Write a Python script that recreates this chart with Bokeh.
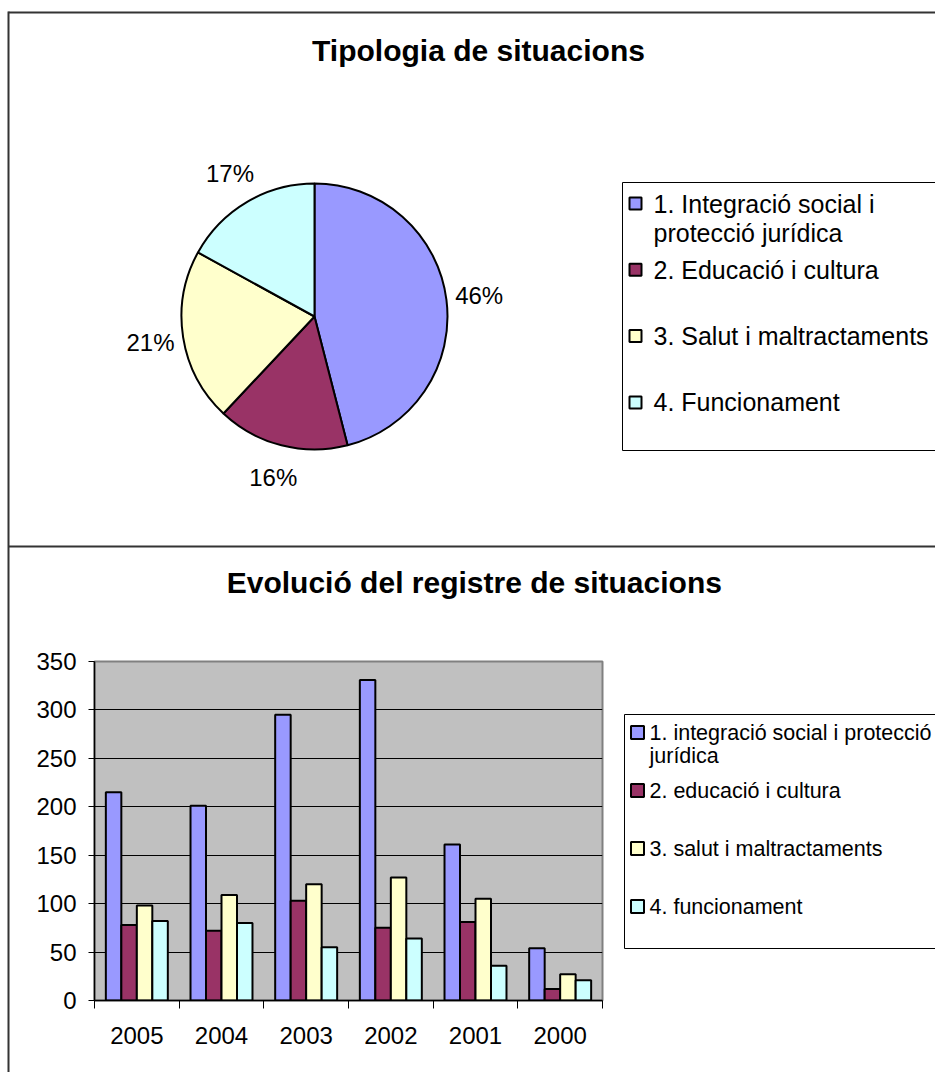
import numpy as np
from bokeh.plotting import figure
from bokeh.models import Range1d, FixedTicker
from bokeh.core.properties import value
from bokeh.embed import file_html
from bokeh.resources import INLINE

FONT = "Liberation Sans"

# ---------------- data ----------------
pie_title = "Tipologia de situacions"
pie_labels = ["1. Integració social i\nprotecció jurídica", "2. Educació i cultura",
              "3. Salut i maltractaments", "4. Funcionament"]
pie_pct = [46, 16, 21, 17]

bar_title = "Evolució  del registre de situacions"
years = ["2005", "2004", "2003", "2002", "2001", "2000"]
s_integracio = [215, 201, 295, 331, 161, 54]
s_educacio = [78, 72, 103, 75, 81, 12]
s_salut = [98, 109, 120, 127, 105, 27]
s_funcionament = [82, 80, 55, 64, 36, 21]
bar_labels = ["1. integració social i protecció\njurídica", "2. educació i cultura",
              "3. salut i maltractaments", "4. funcionament"]
y_ticks = [0, 50, 100, 150, 200, 250, 300, 350]

colors = ["#9999FF", "#993366", "#FFFFCC", "#CCFFFF"]
BORDER = "#333333"

W, H = 935, 1072
FL, FT, FW, FH = 94, 661, 508, 339   # plot area (frame) in page pixels
YMAX = 350

p = figure(frame_width=FW, frame_height=FH, x_range=Range1d(0, len(years)),
           y_range=Range1d(0, YMAX), output_backend="svg", toolbar_location=None,
           min_border_left=FL, min_border_right=W - FL - FW,
           min_border_top=FT, min_border_bottom=H - FT - FH)
p.background_fill_color = "#C0C0C0"
p.border_fill_color = "white"
p.outline_line_color = "#808080"
p.outline_line_width = 2

centers = [i + 0.5 for i in range(len(years))]
p.xaxis.ticker = FixedTicker(ticks=centers, minor_ticks=list(range(len(years) + 1)))
p.xaxis.major_label_overrides = {c: y for c, y in zip(centers, years)}
p.xaxis.major_tick_out = 0
p.xaxis.major_tick_in = 0
p.xaxis.minor_tick_out = 8
p.xaxis.minor_tick_in = 0
p.xaxis.minor_tick_line_color = "black"
p.xaxis.major_label_standoff = 18

p.yaxis.ticker = FixedTicker(ticks=y_ticks)
p.yaxis.major_tick_out = 6
p.yaxis.major_tick_in = 0
p.yaxis.minor_tick_line_color = None
p.yaxis.major_label_standoff = 12

for ax in (p.xaxis, p.yaxis):
    ax.axis_line_color = "black"
    ax.axis_line_width = 1.5
    ax.major_tick_line_color = "black"
    ax.major_label_text_font = FONT
    ax.major_label_text_font_size = "24px"
    ax.major_label_text_color = "black"

p.xgrid.visible = False
p.ygrid.ticker = FixedTicker(ticks=y_ticks)
p.ygrid.grid_line_color = "black"
p.ygrid.grid_line_width = 1

# ---------------- bars ----------------
bw = 0.183
series = [s_integracio, s_educacio, s_salut, s_funcionament]
for j, s in enumerate(series):
    xs = [i + 0.5 + (j - 1.5) * bw for i in range(len(years))]
    p.vbar(x=xs, top=s, bottom=0, width=bw, fill_color=colors[j],
           line_color="black", line_width=2)

# page pixel -> data coordinate helpers (for decorations outside the plot area)
PXU = FW / len(years)
PYU = FH / YMAX


def gx(px):
    return (px - FL) / PXU


def gy(py):
    return (FT + FH - py) / PYU


def over(r):
    r.level = "overlay"
    return r


def txt(xs, ys, texts, size, bold=False, align="left"):
    return over(p.text(x=xs, y=ys, text=texts, text_font=value(FONT),
                       text_font_style="bold" if bold else "normal",
                       text_font_size=size, text_align=align,
                       text_baseline="middle", text_color="black"))


def legend(labels, x_box, y_box_top, y_box_bot, x_mark, y_first, step, msize,
           x_text, line_h, size):
    over(p.quad(left=gx(x_box), right=gx(W + 40), top=gy(y_box_top), bottom=gy(y_box_bot),
                fill_color="white", line_color="black", line_width=1))
    ys = [y_first + step * i for i in range(len(labels))]
    h = msize / 2.0
    over(p.quad(left=[gx(x_mark - h)] * len(ys), right=[gx(x_mark + h)] * len(ys),
                top=[gy(v - h) for v in ys], bottom=[gy(v + h) for v in ys],
                fill_color=colors, line_color="black", line_width=2))
    tx, ty, tt = [], [], []
    for lab, yy in zip(labels, ys):
        for k, line in enumerate(lab.split("\n")):
            tx.append(gx(x_text)); ty.append(gy(yy + line_h * k)); tt.append(line)
    txt(tx, ty, tt, size)


# panel borders
over(p.line(x=[gx(8), gx(W + 10)], y=[gy(12), gy(12)], line_color=BORDER, line_width=2))
over(p.line(x=[gx(8), gx(8)], y=[gy(11), gy(H + 10)], line_color=BORDER, line_width=2))
over(p.line(x=[gx(8), gx(W + 10)], y=[gy(546), gy(546)], line_color=BORDER, line_width=2))

# ---------------- top panel: pie ----------------
txt([gx(478)], [gy(50)], [pie_title], "30px", bold=True, align="center")

CX, CY, R = 314, 316, 133
frac = np.array(pie_pct, dtype=float) / sum(pie_pct)
cum = np.concatenate([[0.0], np.cumsum(frac)])
start = np.pi / 2 - cum[1:] * 2 * np.pi
end = np.pi / 2 - cum[:-1] * 2 * np.pi
over(p.wedge(x=gx(CX), y=gy(CY), radius=R, radius_units="screen",
             start_angle=list(start), end_angle=list(end),
             fill_color=colors, line_color="black", line_width=2))

mid = np.pi / 2 - (cum[:-1] + cum[1:]) / 2 * 2 * np.pi
LR = 166
txt([gx(CX + LR * np.cos(a)) for a in mid], [gy(CY - LR * np.sin(a)) for a in mid],
    [f"{v}%" for v in pie_pct], "24px", align="center")

legend(pie_labels, 622, 182, 450, 635, 203, 66.3, 12, 653, 29, "25px")

# ---------------- bottom panel: titles & legend ----------------
txt([gx(478)], [gy(582)], [bar_title], "30px", bold=True, align="center")
legend(bar_labels, 624, 714, 948, 637, 732, 58, 13, 649, 23, "21.5px")

open("out.html", "w").write(file_html(p, INLINE))
